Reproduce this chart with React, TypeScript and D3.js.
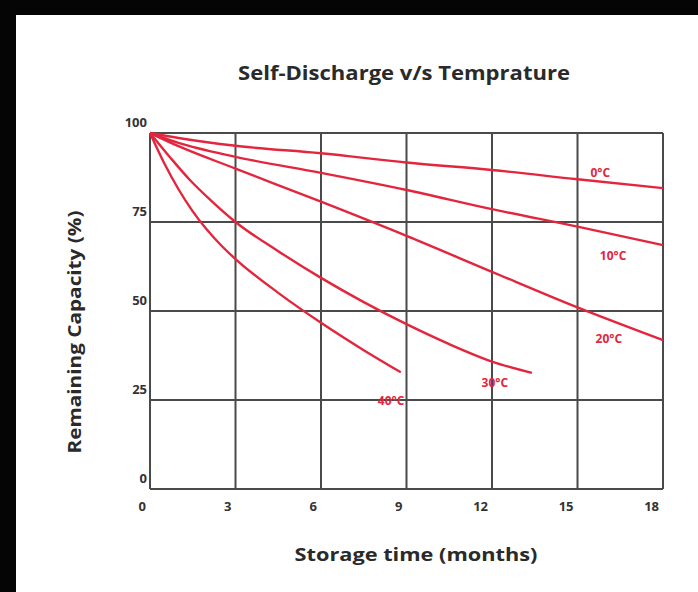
import React from "react";
import * as d3 from "d3";

const W = 698;
const H = 592;

const title = "Self-Discharge v/s Temprature";
const xTitle = "Storage time (months)";
const yTitle = "Remaining Capacity (%)";

const xTicks = [0, 3, 6, 9, 12, 15, 18];
const yTicks = [0, 25, 50, 75, 100];

const series0: [number, number][] = [[0, 100], [1, 98.6], [3, 96.4], [6, 94.3], [9, 91.7], [12, 89.6], [15, 87], [18, 84.5]];
const series10: [number, number][] = [[0, 100], [1, 97.2], [3, 93.3], [6, 88.8], [9, 84], [12, 78.6], [15, 73.7], [18, 68.5]];
const series20: [number, number][] = [[0, 100], [1, 96.3], [3, 90], [6, 80.7], [9, 71.1], [12, 61], [15, 51], [18, 41.8]];
const series30: [number, number][] = [[0, 100], [0.7, 93.2], [1.4, 86.8], [2.2, 80.6], [3, 75], [4.5, 66.8], [6, 59.3], [7.5, 52.5], [9, 46.3], [10.5, 40.7], [12, 35.8], [13.4, 32.6]];
const series40: [number, number][] = [[0, 100], [0.5, 91.5], [1, 84.2], [1.5, 78], [2, 72.8], [2.5, 68.4], [3, 64.6], [4.5, 55.1], [6, 46.7], [7.5, 39], [8.8, 32.8]];

const seriesList = [series0, series10, series20, series30, series40];
const labelTexts = ["0°C", "10°C", "20°C", "30°C", "40°C"];
const labelX = [15.8, 16.25, 16.1, 12.1, 8.46];
const labelY = [89, 65.7, 42.4, 29.8, 25];

export default function App() {
  const x = d3.scaleLinear().domain([0, 18]).range([150, 663]);
  const y = d3.scaleLinear().domain([0, 100]).range([489, 133]);
  const line = d3
    .line<[number, number]>()
    .x((d) => x(d[0]))
    .y((d) => y(d[1]))
    .curve(d3.curveMonotoneX);

  const gridColor = "#4a4a4a";
  const red = "#e3263d";
  const font = "'Open Sans', 'DejaVu Sans', sans-serif";

  return (
    <svg
      width={W}
      height={H}
      style={{ position: "absolute", left: 0, top: 0, background: "#fff" }}
    >
      <rect x={0} y={0} width={W} height={H} fill="#fff" />
      <rect x={0} y={0} width={W} height={15} fill="#050505" />
      <rect x={0} y={0} width={16} height={H} fill="#050505" />

      <text
        x={404}
        y={80}
        textAnchor="middle"
        fontFamily={font}
        fontWeight={700}
        fontSize={20}
        textLength={332}
        lengthAdjust="spacingAndGlyphs"
        fill="#2a2a2a"
      >
        {title}
      </text>

      {xTicks.map((t) => (
        <line
          key={"vx" + t}
          x1={x(t)}
          x2={x(t)}
          y1={y(100)}
          y2={y(0)}
          stroke={gridColor}
          strokeWidth={2}
        />
      ))}
      {yTicks.map((t) => (
        <line
          key={"hy" + t}
          x1={x(0)}
          x2={x(18)}
          y1={y(t)}
          y2={y(t)}
          stroke={gridColor}
          strokeWidth={2}
        />
      ))}

      {seriesList.map((s, i) => (
        <path
          key={"s" + i}
          d={line(s) || ""}
          fill="none"
          stroke={red}
          strokeWidth={2.4}
        />
      ))}

      {labelTexts.map((t, i) => (
        <text
          key={"l" + i}
          x={x(labelX[i])}
          y={y(labelY[i]) + 4.5}
          textAnchor="middle"
          fontFamily={font}
          fontWeight={700}
          fontSize={12}
          fill={red}
        >
          {t}
        </text>
      ))}

      {yTicks.map((t) => (
        <text
          key={"yt" + t}
          x={x(0) - 3}
          y={y(t) - 6}
          textAnchor="end"
          fontFamily={font}
          fontWeight={700}
          fontSize={13}
          fill="#333"
        >
          {t}
        </text>
      ))}
      {xTicks.map((t) => (
        <text
          key={"xt" + t}
          x={x(t) - 4}
          y={511}
          textAnchor="end"
          fontFamily={font}
          fontWeight={700}
          fontSize={13}
          fill="#333"
        >
          {t}
        </text>
      ))}

      <text
        x={416}
        y={561}
        textAnchor="middle"
        fontFamily={font}
        fontWeight={700}
        fontSize={18}
        textLength={243}
        lengthAdjust="spacingAndGlyphs"
        fill="#2a2a2a"
      >
        {xTitle}
      </text>
      <text
        transform={`translate(81, 332) rotate(-90)`}
        textAnchor="middle"
        fontFamily={font}
        fontWeight={700}
        fontSize={18}
        textLength={243}
        lengthAdjust="spacingAndGlyphs"
        fill="#2a2a2a"
      >
        {yTitle}
      </text>
    </svg>
  );
}
